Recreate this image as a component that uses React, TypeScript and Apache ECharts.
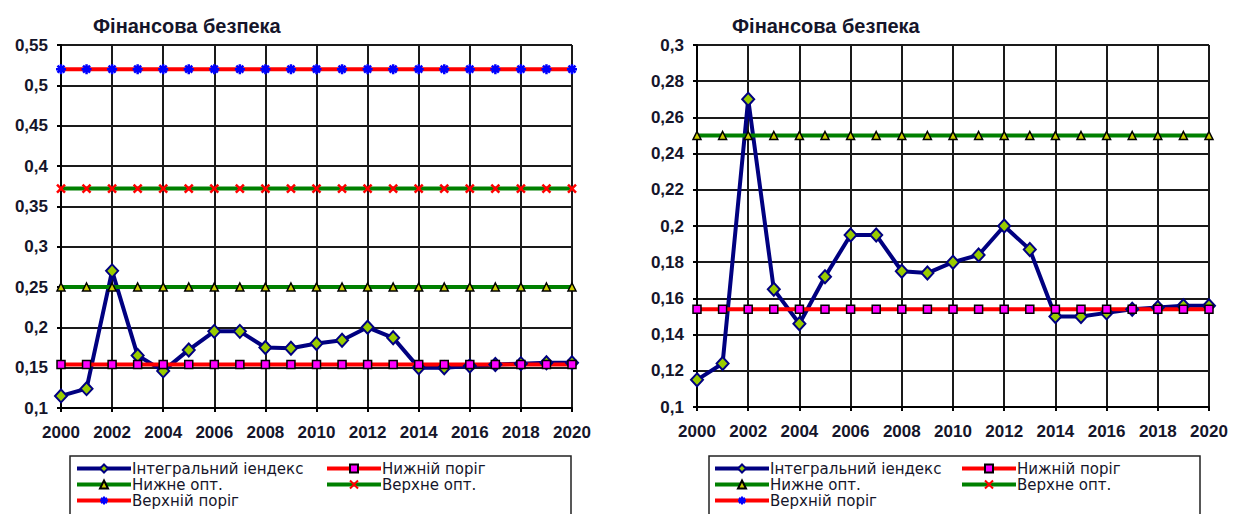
import React, { useEffect, useRef } from "react";
import * as echarts from "echarts";

const years = ["2000","2001","2002","2003","2004","2005","2006","2007","2008","2009","2010","2011","2012","2013","2014","2015","2016","2017","2018","2019","2020"];
const integralIndex = [0.115,0.124,0.270,0.165,0.146,0.172,0.195,0.195,0.175,0.174,0.180,0.184,0.200,0.187,0.150,0.150,0.152,0.154,0.155,0.156,0.156];
const lowerThreshold = years.map(() => 0.154);
const lowerOpt = years.map(() => 0.25);
const upperOpt = years.map(() => 0.372);
const upperThreshold = years.map(() => 0.52);

const seriesNames = ["Інтегральний іендекс", "Нижній поріг", "Нижне опт.", "Верхне опт.", "Верхній поріг"];
const titleText = "Фінансова безпека";

const FONT = "'Liberation Sans', Arial, sans-serif";
const LEG_FONT = "'DejaVu Sans', 'Liberation Sans', sans-serif";
const TXT = "#15152a";

const X_SYM = "path://M0,0L10,10M10,0L0,10";
const AST_SYM = "path://M5,0L5,10M0,5L10,5M1.5,1.5L8.5,8.5M8.5,1.5L1.5,8.5";

function makeSeries(gridIdx: number) {
  const base = { type: "line", xAxisIndex: gridIdx, yAxisIndex: gridIdx, clip: true, showAllSymbol: true };
  return [
    { ...base, name: seriesNames[0], data: integralIndex, symbol: "diamond", symbolSize: [12, 13],
      lineStyle: { color: "#000080", width: 4 }, itemStyle: { color: "#99cc00", borderColor: "#000080", borderWidth: 2 } },
    { ...base, name: seriesNames[1], data: lowerThreshold, symbol: "rect", symbolSize: 8,
      lineStyle: { color: "#ff0000", width: 4 }, itemStyle: { color: "#ff00ff", borderColor: "#000000", borderWidth: 1.5 } },
    { ...base, name: seriesNames[2], data: lowerOpt, symbol: "triangle", symbolSize: 8,
      lineStyle: { color: "#008000", width: 4 }, itemStyle: { color: "#cccc00", borderColor: "#000000", borderWidth: 1.5 } },
    { ...base, name: seriesNames[3], data: upperOpt, symbol: X_SYM, symbolSize: 8,
      lineStyle: { color: "#008000", width: 4 }, itemStyle: { color: "#ff0000", borderColor: "#ff0000", borderWidth: 2.5 } },
    { ...base, name: seriesNames[4], data: upperThreshold, symbol: AST_SYM, symbolSize: 10,
      lineStyle: { color: "#ff0000", width: 4 }, itemStyle: { color: "#0000ff", borderColor: "#0000ff", borderWidth: 2.5 } },
  ];
}

const fmt = (v: number) => String(Number(v.toFixed(2))).replace(".", ",");

function makeAxes(gridIdx: number, max: number, interval: number) {
  const x = {
    type: "category", gridIndex: gridIdx, data: years, boundaryGap: false,
    axisLine: { lineStyle: { color: "#000", width: 2 } },
    axisTick: { show: true, interval: 1, length: 4, lineStyle: { color: "#000", width: 2 } },
    axisLabel: { interval: 1, margin: 16, color: TXT, fontFamily: FONT, fontSize: 17, fontWeight: "bold" },
    splitLine: { show: true, interval: 1, lineStyle: { color: "#1a1a1a", width: 2 } },
  };
  const y = {
    type: "value", gridIndex: gridIdx, min: 0.1, max, interval,
    axisLine: { show: true, lineStyle: { color: "#000", width: 2 } },
    axisTick: { show: true, length: 4, lineStyle: { color: "#000", width: 2 } },
    axisLabel: { margin: 13, color: TXT, fontFamily: FONT, fontSize: 17, fontWeight: "bold", formatter: fmt },
    splitLine: { show: true, lineStyle: { color: "#1a1a1a", width: 2 } },
  };
  return { x, y };
}

function legendItems(positions: Array<[number, number, number]>) {
  return positions.map(([left, top, idx]) => ({
    data: [seriesNames[idx]], left, top, orient: "horizontal", padding: 0,
    itemWidth: 54, itemHeight: 10, selectedMode: false,
    lineStyle: { width: 4 },
    textStyle: { color: TXT, fontFamily: LEG_FONT, fontSize: 15, lineHeight: 15, padding: [0, 0, 0, -4] },
  }));
}

export default function App() {
  const ref = useRef<HTMLDivElement>(null);
  useEffect(() => {
    document.body.style.margin = "0";
    const chart = echarts.init(ref.current!, null, { renderer: "svg" });
    const a1 = makeAxes(0, 0.55, 0.05);
    const a2 = makeAxes(1, 0.3, 0.02);
    const rowY = [461, 477, 493];
    chart.setOption({
      animation: false,
      backgroundColor: "#ffffff",
      title: [
        { text: titleText, left: 88, top: 11, textStyle: { fontFamily: FONT, fontSize: 20, fontWeight: "bold", color: TXT } },
        { text: titleText, left: 727, top: 11, textStyle: { fontFamily: FONT, fontSize: 20, fontWeight: "bold", color: TXT } },
      ],
      grid: [
        { left: 61, top: 45, width: 511, height: 363 },
        { left: 697, top: 45, width: 512, height: 362 },
      ],
      xAxis: [a1.x, a2.x],
      yAxis: [a1.y, a2.y],
      legend: [
        ...legendItems([[75, rowY[0], 0], [325, rowY[0], 1], [75, rowY[1], 2], [325, rowY[1], 3], [75, rowY[2], 4]]),
        ...legendItems([[713, rowY[0], 0], [960, rowY[0], 1], [713, rowY[1], 2], [960, rowY[1], 3], [713, rowY[2], 4]]),
      ],
      graphic: [
        { type: "rect", shape: { x: 70, y: 456, width: 501, height: 80 }, style: { fill: "none", stroke: "#222", lineWidth: 1.5 } },
        { type: "rect", shape: { x: 709, y: 456, width: 491, height: 80 }, style: { fill: "none", stroke: "#222", lineWidth: 1.5 } },
      ],
      series: [...makeSeries(0), ...makeSeries(1)],
    });
    return () => chart.dispose();
  }, []);
  return <div ref={ref} style={{ width: 1243, height: 514 }} />;
}
